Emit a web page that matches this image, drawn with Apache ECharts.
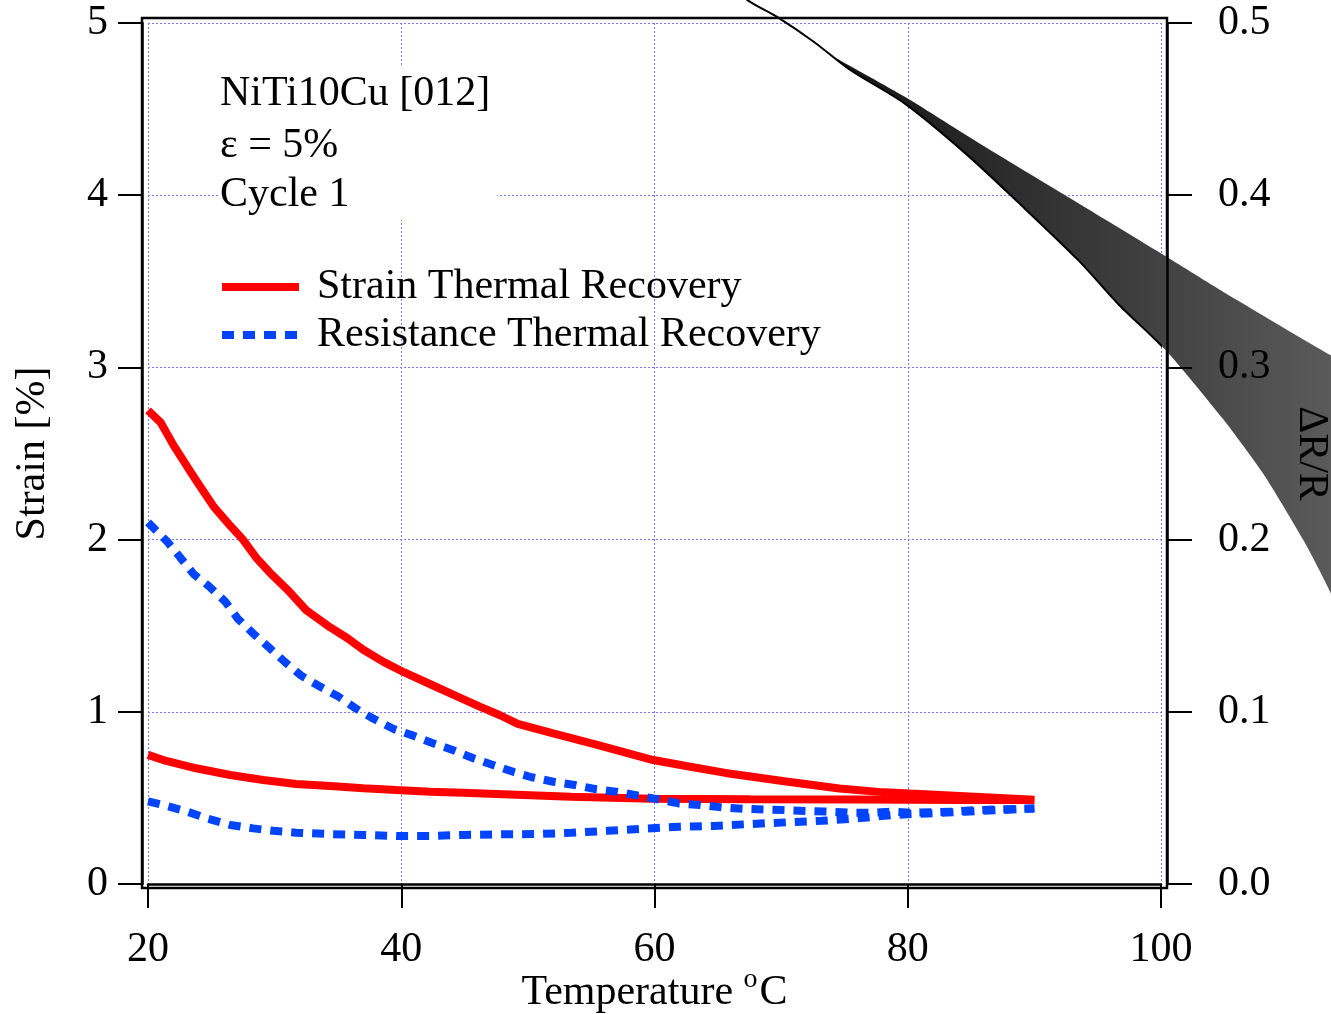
<!DOCTYPE html>
<html><head><meta charset="utf-8">
<script src="https://cdn.jsdelivr.net/npm/echarts@6/dist/echarts.min.js"></script>
<style>html,body{margin:0;padding:0;background:#fff}#c{width:1331px;height:1014px}</style>
</head><body><div id="c"></div>
<script>
// ---- data ----
const xTicks = [20, 40, 60, 80, 100];
const strainTicks = [0, 1, 2, 3, 4, 5];
const drTicks = ['0.0', '0.1', '0.2', '0.3', '0.4', '0.5'];

const strainUpT = [20, 21.0, 22.0, 23.3, 24.2, 25.2, 26.5, 27.5, 28.6, 29.6, 31.0, 32.5, 34.4, 35.7, 37.0, 38.6, 40.2, 42.3, 44.4, 46.2, 47.8, 49.2, 52.0, 55.4, 59.9, 62.5, 65.6, 70.4, 74.6, 77.7, 80.2, 84.5, 90.0];
const strainUpV = [2.75, 2.68, 2.55, 2.40, 2.30, 2.19, 2.08, 2.00, 1.89, 1.81, 1.71, 1.59, 1.49, 1.43, 1.36, 1.29, 1.23, 1.16, 1.09, 1.03, 0.98, 0.93, 0.875, 0.81, 0.72, 0.685, 0.645, 0.595, 0.555, 0.535, 0.525, 0.51, 0.49];

const strainLowT = [20, 21.2, 23.8, 26.5, 29.1, 31.7, 34.4, 37.0, 39.6, 42.3, 44.9, 47.5, 53.4, 59.9, 67.5, 76.0, 84.4, 90.0];
const strainLowV = [0.75, 0.72, 0.672, 0.633, 0.604, 0.581, 0.569, 0.556, 0.546, 0.536, 0.530, 0.523, 0.507, 0.495, 0.492, 0.490, 0.488, 0.488];

const resUpT = [20, 21.5, 22.5, 23.6, 24.8, 26.1, 27.1, 28.3, 29.6, 30.8, 32.1, 33.5, 35.0, 36.4, 37.8, 39.4, 41.0, 42.4, 44.0, 45.7, 47.3, 48.9, 50.3, 52.0, 53.7, 55.4, 57.1, 58.8, 60.2, 61.9, 63.6, 65.3, 67.0, 68.7, 70.4, 72.0, 73.8, 75.4, 77.1, 78.8, 80.2, 81.9, 83.6, 85.3, 87.0, 90.0];
const resUpV = [2.10, 1.99, 1.90, 1.80, 1.73, 1.64, 1.54, 1.455, 1.37, 1.29, 1.21, 1.15, 1.09, 1.02, 0.96, 0.90, 0.86, 0.82, 0.78, 0.73, 0.69, 0.65, 0.62, 0.594, 0.575, 0.55, 0.535, 0.512, 0.493, 0.468, 0.459, 0.445, 0.437, 0.433, 0.429, 0.424, 0.420, 0.414, 0.414, 0.420, 0.414, 0.416, 0.420, 0.429, 0.433, 0.439];

const resLowT = [20, 21.2, 23.1, 24.6, 26.5, 28.3, 29.9, 31.7, 34.4, 37.0, 39.6, 42.3, 44.9, 47.5, 50.6, 53.4, 56.3, 59.1, 61.9, 64.7, 67.5, 70.4, 73.2, 76.0, 78.8, 81.6, 84.5, 87.3, 90.0];
const resLowV = [0.48, 0.459, 0.420, 0.382, 0.343, 0.323, 0.309, 0.298, 0.290, 0.285, 0.279, 0.279, 0.285, 0.288, 0.290, 0.297, 0.309, 0.321, 0.332, 0.337, 0.348, 0.358, 0.367, 0.381, 0.401, 0.410, 0.420, 0.429, 0.439];

// dR/R band (right axis)
const bandLowT = [66.0, 67.4, 69.8, 72.6, 75.4, 79.8, 84.6, 88.7, 93.5, 96.6, 100.5, 104.9, 108.1, 111.3, 113.4, 116.0];
const bandLowV = [0.522, 0.513, 0.503, 0.489, 0.473, 0.453, 0.424, 0.396, 0.362, 0.337, 0.309, 0.270, 0.238, 0.199, 0.169, 0.125];
const bandUpT = [74.0, 79.8, 85.9, 92.2, 100.5, 104.9, 113.4, 119.0];
const bandUpV = [0.481, 0.457, 0.429, 0.401, 0.364, 0.344, 0.307, 0.283];

const annotation = ['NiTi10Cu [012]', 'ε = 5%', 'Cycle 1'];
const nameStrain = 'Strain Thermal Recovery';
const nameRes = 'Resistance Thermal Recovery';

// ---- chart ----
const FONT = 'Liberation Serif';
const FS = 42;
const zip = (a, b) => a.map((v, i) => [v, b[i]]);
const chart = echarts.init(document.getElementById('c'), null, {renderer: 'canvas'});
const gridLine = {show: true, lineStyle: {color: '#7878ff', type: [2, 2], width: 1}};
const axisTxt = {fontSize: FS, fontFamily: FONT, color: '#000'};

chart.setOption({
  animation: false,
  backgroundColor: '#fff',
  textStyle: {fontFamily: FONT},
  grid: {left: 148, right: 170, top: 23, bottom: 130, containLabel: false, outerBoundsMode: 'none'},
  legend: {
    show: true, orient: 'vertical', left: 213, top: 258, itemGap: 0,
    itemWidth: 77, itemHeight: 14,
    data: [nameStrain, nameRes],
    itemStyle: {opacity: 0},
    lineStyle: {width: 8},
    textStyle: {fontSize: FS, fontFamily: FONT, color: '#000', lineHeight: 48, padding: [0, 0, 0, 13]}
  },
  xAxis: {
    type: 'value', min: xTicks[0], max: xTicks[xTicks.length - 1], interval: 20, offset: 4,
    axisLine: {show: true, lineStyle: {color: '#000', width: 2.5}},
    axisTick: {show: true, length: 24, lineStyle: {color: '#000', width: 2}},
    axisLabel: Object.assign({margin: 41}, axisTxt),
    splitLine: gridLine,
    name: '{a|Temperature }{s|o}{a|C}', nameLocation: 'middle', nameGap: 78, nameMoveOverlap: false,
    nameTextStyle: {rich: {
      a: {fontSize: FS, fontFamily: FONT, color: '#000'},
      s: {fontSize: 28, fontFamily: FONT, color: '#000', padding: [0, 2, 26, 0]}
    }}
  },
  yAxis: [{
    type: 'value', min: strainTicks[0], max: strainTicks[strainTicks.length - 1], interval: 1, offset: 6,
    axisLine: {show: true, lineStyle: {color: '#000', width: 2.5}},
    axisTick: {show: true, length: 24, lineStyle: {color: '#000', width: 2}},
    axisLabel: Object.assign({margin: 34}, axisTxt),
    splitLine: gridLine,
    name: 'Strain [%]', nameLocation: 'middle', nameRotate: 90, nameGap: 88, nameMoveOverlap: false,
    nameTextStyle: axisTxt
  }, {
    type: 'value', position: 'right', min: 0, max: 0.5, interval: 0.1, offset: 6, z: 10,
    axisLine: {show: true, lineStyle: {color: '#000', width: 2.5}},
    axisTick: {show: true, length: 25, lineStyle: {color: '#000', width: 2}},
    axisLabel: Object.assign({margin: 51, formatter: v => drTicks[Math.round(v * 10)]}, axisTxt),
    splitLine: {show: false},
    name: 'ΔR/R', nameLocation: 'middle', nameRotate: -90, nameGap: 123, nameMoveOverlap: false,
    nameTextStyle: axisTxt
  }],
  graphic: [
    {type: 'rect', z: 3, shape: {x: 142, y: 18, width: 1025, height: 870}, style: {fill: 'none', stroke: '#000', lineWidth: 2.5}},
    {type: 'rect', z: 3, shape: {x: 219, y: 66, width: 278, height: 154}, style: {fill: '#fff'}},
    {type: 'text', z: 4, x: 220, y: 94, style: {text: annotation[0], font: FS + 'px "Liberation Serif"', fill: '#000', verticalAlign: 'middle'}},
    {type: 'text', z: 4, x: 220, y: 146, style: {text: annotation[1], font: FS + 'px "Liberation Serif"', fill: '#000', verticalAlign: 'middle'}},
    {type: 'text', z: 4, x: 220, y: 195, style: {text: annotation[2], font: FS + 'px "Liberation Serif"', fill: '#000', verticalAlign: 'middle'}}
  ],
  series: [
    {
      type: 'custom', xAxisIndex: 0, yAxisIndex: 1, clip: false, silent: true, z: 5,
      data: [[bandUpT[0], bandUpV[0]]],
      renderItem: function (params, api) {
        const pts = [];
        for (let i = 0; i < bandUpT.length; i++) pts.push(api.coord([bandUpT[i], bandUpV[i]]));
        for (let i = bandLowT.length - 1; i >= 0; i--) {
          if (bandLowT[i] > bandUpT[0]) pts.push(api.coord([bandLowT[i], bandLowV[i]]));
        }
        pts.push(api.coord([bandUpT[0], bandUpV[0]]));
        return {
          type: 'polygon', shape: {points: pts, smooth: 0.2},
          style: {fill: new echarts.graphic.LinearGradient(0, 0, 1, 0, [
            {offset: 0, color: '#141414'}, {offset: 1, color: '#646464'}
          ])}
        };
      }
    },
    {
      type: 'line', xAxisIndex: 0, yAxisIndex: 1, clip: false, silent: true, z: 6,
      symbol: 'none', smooth: 0.3, data: zip(bandLowT, bandLowV),
      lineStyle: {color: '#000', width: 2}
    },
    {
      name: nameStrain, type: 'line', symbol: 'none', data: zip(strainUpT, strainUpV),
      color: '#ff0000', lineStyle: {color: '#ff0000', width: 8}, z: 7
    },
    {
      name: nameStrain, type: 'line', symbol: 'none', data: zip(strainLowT, strainLowV),
      color: '#ff0000', lineStyle: {color: '#ff0000', width: 8}, z: 7
    },
    {
      name: nameRes, type: 'line', symbol: 'none', data: zip(resUpT, resUpV),
      color: '#0044ff', lineStyle: {color: '#0044ff', width: 8, type: [12, 9], cap: 'butt'}, z: 8
    },
    {
      name: nameRes, type: 'line', symbol: 'none', data: zip(resLowT, resLowV),
      color: '#0044ff', lineStyle: {color: '#0044ff', width: 8, type: [12, 9], cap: 'butt'}, z: 8
    }
  ]
});
</script>
</body></html>
